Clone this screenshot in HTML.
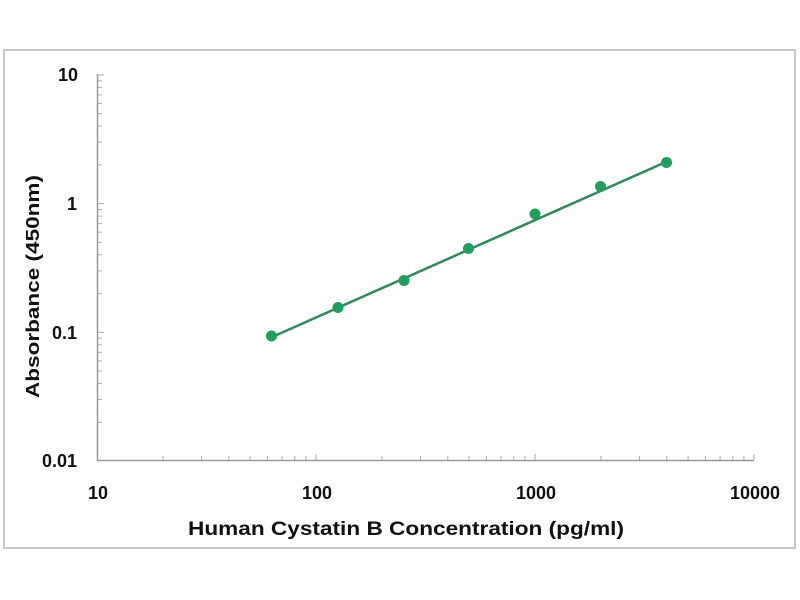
<!DOCTYPE html>
<html>
<head>
<meta charset="utf-8">
<style>
html,body{margin:0;padding:0;background:#fff;}
svg{display:block;}
text{font-family:"Liberation Sans",Arial,sans-serif;font-weight:bold;fill:#111;}
</style>
</head>
<body>
<svg width="800" height="600" viewBox="0 0 800 600" xmlns="http://www.w3.org/2000/svg">
<rect x="0" y="0" width="800" height="600" fill="#fff"/>
<rect x="4" y="50" width="791" height="498" fill="none" stroke="#c8c8c8" stroke-width="2"/>

<!-- axes -->
<g stroke="#999" stroke-width="1.5" fill="none">
<line x1="97.5" y1="74" x2="97.5" y2="461"/>
<line x1="97" y1="460.5" x2="754" y2="460.5"/>
</g>

<!-- x ticks -->
<g stroke="#aaa" stroke-width="1">
<line x1="316" y1="460" x2="316" y2="454"/>
<line x1="535" y1="460" x2="535" y2="454"/>
<line x1="754" y1="460" x2="754" y2="454"/>
<line x1="162.9" y1="460" x2="162.9" y2="456"/><line x1="201.5" y1="460" x2="201.5" y2="456"/><line x1="228.8" y1="460" x2="228.8" y2="456"/><line x1="250.1" y1="460" x2="250.1" y2="456"/><line x1="267.4" y1="460" x2="267.4" y2="456"/><line x1="282.1" y1="460" x2="282.1" y2="456"/><line x1="294.8" y1="460" x2="294.8" y2="456"/><line x1="305.9" y1="460" x2="305.9" y2="456"/>
<line x1="381.9" y1="460" x2="381.9" y2="456"/><line x1="420.5" y1="460" x2="420.5" y2="456"/><line x1="447.8" y1="460" x2="447.8" y2="456"/><line x1="469.1" y1="460" x2="469.1" y2="456"/><line x1="486.4" y1="460" x2="486.4" y2="456"/><line x1="501.1" y1="460" x2="501.1" y2="456"/><line x1="513.8" y1="460" x2="513.8" y2="456"/><line x1="524.9" y1="460" x2="524.9" y2="456"/>
<line x1="600.9" y1="460" x2="600.9" y2="456"/><line x1="639.5" y1="460" x2="639.5" y2="456"/><line x1="666.8" y1="460" x2="666.8" y2="456"/><line x1="688.1" y1="460" x2="688.1" y2="456"/><line x1="705.4" y1="460" x2="705.4" y2="456"/><line x1="720.1" y1="460" x2="720.1" y2="456"/><line x1="732.8" y1="460" x2="732.8" y2="456"/><line x1="743.9" y1="460" x2="743.9" y2="456"/>
</g>

<!-- y ticks -->
<g stroke="#aaa" stroke-width="1">
<line x1="98" y1="75" x2="104" y2="75"/>
<line x1="98" y1="203.6" x2="104" y2="203.6"/>
<line x1="98" y1="332.3" x2="104" y2="332.3"/>
<line x1="98" y1="422.3" x2="102" y2="422.3"/><line x1="98" y1="399.6" x2="102" y2="399.6"/><line x1="98" y1="383.5" x2="102" y2="383.5"/><line x1="98" y1="371" x2="102" y2="371"/><line x1="98" y1="360.9" x2="102" y2="360.9"/><line x1="98" y1="352.3" x2="102" y2="352.3"/><line x1="98" y1="344.8" x2="102" y2="344.8"/><line x1="98" y1="338.2" x2="102" y2="338.2"/>
<line x1="98" y1="293.6" x2="102" y2="293.6"/><line x1="98" y1="270.9" x2="102" y2="270.9"/><line x1="98" y1="254.8" x2="102" y2="254.8"/><line x1="98" y1="242.3" x2="102" y2="242.3"/><line x1="98" y1="232.2" x2="102" y2="232.2"/><line x1="98" y1="223.6" x2="102" y2="223.6"/><line x1="98" y1="216.1" x2="102" y2="216.1"/><line x1="98" y1="209.5" x2="102" y2="209.5"/>
<line x1="98" y1="164.9" x2="102" y2="164.9"/><line x1="98" y1="142.2" x2="102" y2="142.2"/><line x1="98" y1="126.1" x2="102" y2="126.1"/><line x1="98" y1="113.6" x2="102" y2="113.6"/><line x1="98" y1="103.5" x2="102" y2="103.5"/><line x1="98" y1="94.9" x2="102" y2="94.9"/><line x1="98" y1="87.4" x2="102" y2="87.4"/><line x1="98" y1="80.8" x2="102" y2="80.8"/>
</g>

<!-- y tick labels -->
<g font-size="18" text-anchor="end">
<text x="78" y="81">10</text>
<text x="77" y="210">1</text>
<text x="77" y="339">0.1</text>
<text x="77" y="467">0.01</text>
</g>

<!-- x tick labels -->
<g font-size="18" text-anchor="middle">
<text x="98" y="499">10</text>
<text x="317" y="499">100</text>
<text x="536" y="499">1000</text>
<text x="755" y="499">10000</text>
</g>

<!-- axis titles -->
<text x="188" y="535" font-size="19" textLength="436" lengthAdjust="spacingAndGlyphs">Human Cystatin B Concentration (pg/ml)</text>
<text transform="translate(39,398) rotate(-90)" x="0" y="0" font-size="18" textLength="223" lengthAdjust="spacingAndGlyphs">Absorbance (450nm)</text>

<!-- fit line -->
<line x1="271" y1="337.5" x2="667" y2="161.5" stroke="#2e8a5c" stroke-width="2.5"/>

<!-- points -->
<g fill="#1f9e5c">
<circle cx="271.5" cy="336" r="5.5"/>
<circle cx="338" cy="307.5" r="5.5"/>
<circle cx="404" cy="280.5" r="5.5"/>
<circle cx="468.5" cy="248.5" r="5.5"/>
<circle cx="535" cy="214" r="5.5"/>
<circle cx="600.5" cy="186.5" r="5.5"/>
<circle cx="666.5" cy="162.5" r="5.5"/>
</g>
</svg>
</body>
</html>
